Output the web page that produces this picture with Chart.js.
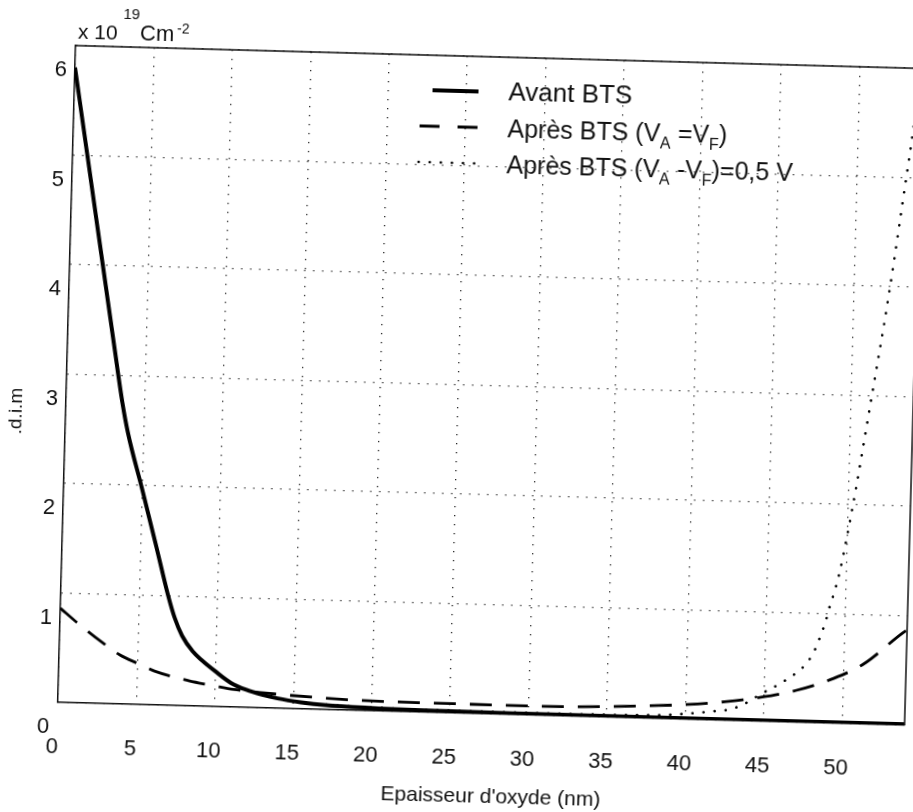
<!DOCTYPE html>
<html>
<head>
<meta charset="utf-8">
<script src="https://cdn.jsdelivr.net/npm/chart.js@4.4.1/dist/chart.umd.min.js"></script>
<style>
  html, body { margin: 0; padding: 0; background: #fff; overflow: hidden; width: 913px; height: 812px; }
  /* the scanned figure is slightly tilted, so the whole canvas is turned a bit */
  #wrap { position: absolute; left: 0; top: 0; width: 960px; height: 812px;
          transform-origin: 456.5px 406px; transform: rotate(1.55deg); }
</style>
</head>
<body>
<div id="wrap"><canvas id="dimChart" width="960" height="812"></canvas></div>
<script>
// Data (x in nm, y in 10^19 C m^-2)
const avantX = [0, 1, 2, 3, 3.6, 4, 5, 6, 6.85, 7.3, 7.8, 8.5, 9.1, 10, 11, 12, 13, 14, 15.5, 17, 20, 25, 30, 40, 54];
const avantY = [5.8, 4.95, 4.1, 3.25, 2.75, 2.48, 1.97, 1.45, 1.0, 0.8, 0.64, 0.5, 0.42, 0.32, 0.22, 0.16, 0.12, 0.09, 0.06, 0.04, 0.025, 0.015, 0.012, 0.01, 0.008];

const apresX = [0, 1.2, 2.7, 3.85, 5.1, 6.1, 8.3, 9.9, 11.2, 13.8, 16.2, 18.5, 21, 25, 30, 33, 35.3, 37.7, 40.1, 42.5, 44.8, 47, 49.4, 51.3, 53.7, 54];
const apresY = [0.86, 0.72, 0.56, 0.45, 0.37, 0.31, 0.23, 0.19, 0.16, 0.13, 0.11, 0.095, 0.088, 0.085, 0.083, 0.088, 0.098, 0.115, 0.135, 0.17, 0.22, 0.29, 0.41, 0.55, 0.84, 0.87];

const apres05X = [15, 20, 30, 38, 40, 41.8, 42.8, 43.7, 44.8, 46, 47, 47.7, 48.2, 48.5, 48.8, 49.0, 49.3, 49.6, 50.0, 50.5, 51.0, 51.5, 52.0, 52.5, 53.0, 53.5, 54];
const apres05Y = [0.06, 0.03, 0.02, 0.03, 0.05, 0.08, 0.1, 0.15, 0.25, 0.35, 0.45, 0.55, 0.68, 0.8, 0.93, 1.05, 1.2, 1.38, 1.7, 2.15, 2.65, 3.15, 3.65, 4.2, 4.8, 5.4, 6.1];

const xTicks = [0, 5, 10, 15, 20, 25, 30, 35, 40, 45, 50];
const yTicks = [0, 1, 2, 3, 4, 5, 6];

const FONT = '"Liberation Sans", Arial, Helvetica, sans-serif';

function toPoints(xs, ys) {
  return xs.map((x, i) => ({ x: x, y: ys[i] }));
}

// draws text pieces, some of them as subscripts
function drawRich(ctx, parts, x, y, size) {
  parts.forEach(p => {
    const sub = p[1];
    ctx.font = (sub ? Math.round(size * 0.64) : size) + 'px ' + FONT;
    ctx.fillText(p[0], x, sub ? y + 7 : y);
    x += ctx.measureText(p[0]).width;
  });
}

const decorPlugin = {
  id: 'decor',
  afterDraw(chart) {
    const ctx = chart.ctx;
    const a = chart.chartArea;
    ctx.save();

    // top and right side of the box
    ctx.strokeStyle = '#111';
    ctx.lineWidth = 1.5;
    ctx.beginPath();
    ctx.moveTo(a.left, a.top);
    ctx.lineTo(a.right, a.top);
    ctx.lineTo(a.right, a.bottom);
    ctx.stroke();

    ctx.fillStyle = '#111';
    ctx.textBaseline = 'alphabetic';
    ctx.textAlign = 'left';

    // unit label
    ctx.font = '21px ' + FONT;
    ctx.fillText('x 10', 68, 49);
    ctx.font = '15px ' + FONT;
    ctx.fillText('19', 113, 28);
    ctx.font = '22px ' + FONT;
    ctx.fillText('Cm', 130, 49);
    ctx.font = '14px ' + FONT;
    ctx.fillText('-2', 167, 41);

    // axis titles
    ctx.font = '21px ' + FONT;
    ctx.textAlign = 'center';
    ctx.textBaseline = 'middle';
    ctx.fillText("Epaisseur d'oxyde (nm)", 501, 796);

    ctx.save();
    ctx.translate(17, 423);
    ctx.rotate(-Math.PI / 2);
    ctx.font = '19px ' + FONT;
    ctx.fillText('.d.i.m', 0, 0);
    ctx.restore();

    // legend
    ctx.strokeStyle = '#000';
    ctx.lineWidth = 4;
    ctx.setLineDash([]);
    ctx.beginPath(); ctx.moveTo(424, 91); ctx.lineTo(470, 91); ctx.stroke();

    ctx.lineWidth = 2.8;
    ctx.setLineDash([20, 18]);
    ctx.beginPath(); ctx.moveTo(412, 127); ctx.lineTo(470, 127); ctx.stroke();

    ctx.lineWidth = 2.6;
    ctx.lineCap = 'round';
    ctx.setLineDash([0.1, 11]);
    ctx.beginPath(); ctx.moveTo(412, 163); ctx.lineTo(470, 163); ctx.stroke();
    ctx.setLineDash([]);

    ctx.textAlign = 'left';
    ctx.textBaseline = 'alphabetic';
    drawRich(ctx, [['Avant BTS', false]], 500, 99, 26);
    drawRich(ctx, [['Après BTS (V', false], ['A', true], [' =V', false], ['F', true], [')', false]], 500, 136, 25);
    drawRich(ctx, [['Après BTS (V', false], ['A', true], [' -V', false], ['F', true], [')=0,5 V', false]], 500, 172, 25);

    ctx.restore();
  }
};

const ctx = document.getElementById('dimChart').getContext('2d');

const dimChart = new Chart(ctx, {
  type: 'line',
  data: {
    datasets: [{
      label: 'Avant BTS',
      data: toPoints(avantX, avantY),
      borderColor: '#000',
      borderWidth: 4,
      pointRadius: 0,
      cubicInterpolationMode: 'monotone',
      fill: false
    }, {
      label: 'Après BTS (VA =VF)',
      data: toPoints(apresX, apresY),
      borderColor: '#000',
      borderWidth: 2.8,
      borderDash: [22, 14],
      pointRadius: 0,
      cubicInterpolationMode: 'monotone',
      fill: false
    }, {
      label: 'Après BTS (VA -VF)=0,5 V',
      data: toPoints(apres05X, apres05Y),
      borderColor: '#000',
      borderWidth: 2.6,
      borderDash: [0.1, 11],
      borderCapStyle: 'round',
      pointRadius: 0,
      cubicInterpolationMode: 'monotone',
      fill: false
    }]
  },
  options: {
    responsive: false,
    animation: false,
    layout: { padding: { left: 0, top: 56, right: 47, bottom: 0 } },
    plugins: {
      legend: { display: false },
      tooltip: { enabled: false }
    },
    scales: {
      x: {
        type: 'linear',
        min: 0,
        max: 54,
        afterBuildTicks: axis => { axis.ticks = xTicks.map(v => ({ value: v })); },
        afterFit: scale => { scale.height = 99; },
        grid: { color: '#222', lineWidth: 1.3, drawTicks: false },
        border: { color: '#111', width: 1.5, dash: [1.3, 7.7] },
        ticks: { color: '#111', padding: 32, labelOffset: -5, font: { family: FONT, size: 22 } }
      },
      y: {
        type: 'linear',
        min: 0,
        max: 6,
        afterBuildTicks: axis => { axis.ticks = yTicks.map(v => ({ value: v })); },
        afterFit: scale => { scale.width = 66; },
        grid: { color: '#222', lineWidth: 1.3, drawTicks: false },
        border: { color: '#111', width: 1.5, dash: [1.3, 7.7] },
        ticks: { color: '#111', padding: 8, labelOffset: 25, font: { family: FONT, size: 22 } }
      }
    }
  },
  plugins: [decorPlugin]
});
</script>
</body>
</html>
